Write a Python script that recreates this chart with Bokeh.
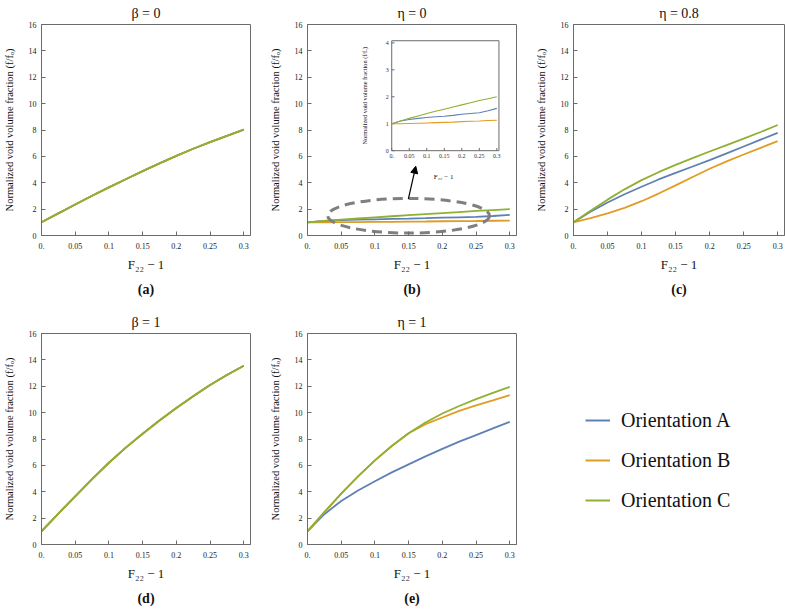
import math
from bokeh.plotting import figure
from bokeh.layouts import row, column
from bokeh.models import (Range1d, FixedTicker, Title, Legend, LegendItem, Arrow,
                          NormalHead, NumeralTickFormatter)
from bokeh.embed import file_html
from bokeh.resources import INLINE
from bokeh.core.properties import value

# ---------------- data ----------------
strain = [0.0, 0.025, 0.05, 0.075, 0.1, 0.125, 0.15, 0.175, 0.2, 0.225, 0.25, 0.275, 0.3]

beta0 = [1.0, 1.68, 2.35, 3.01, 3.65, 4.27, 4.88, 5.47, 6.04, 6.58, 7.08, 7.56, 8.03]
beta1 = [1.0, 2.35, 3.65, 4.95, 6.2, 7.35, 8.4, 9.4, 10.35, 11.25, 12.1, 12.85, 13.55]

eta0_A = [1.0, 1.1, 1.16, 1.2, 1.23, 1.26, 1.28, 1.31, 1.35, 1.38, 1.41, 1.48, 1.57]
eta0_B = [1.0, 1.0, 1.01, 1.02, 1.03, 1.04, 1.05, 1.06, 1.08, 1.09, 1.1, 1.12, 1.13]
eta0_C = [1.0, 1.1, 1.2, 1.29, 1.38, 1.46, 1.54, 1.62, 1.7, 1.78, 1.86, 1.93, 2.0]

eta08_A = [1.0, 1.8, 2.5, 3.13, 3.7, 4.25, 4.75, 5.23, 5.72, 6.23, 6.75, 7.27, 7.78]
eta08_B = [1.0, 1.32, 1.68, 2.1, 2.6, 3.18, 3.8, 4.44, 5.06, 5.62, 6.14, 6.65, 7.15]
eta08_C = [1.0, 1.88, 2.72, 3.5, 4.2, 4.8, 5.35, 5.87, 6.37, 6.86, 7.35, 7.85, 8.38]

eta1_A = [1.0, 2.3, 3.3, 4.1, 4.8, 5.47, 6.08, 6.68, 7.25, 7.8, 8.3, 8.8, 9.3]
eta1_B = [1.0, 2.45, 3.85, 5.17, 6.38, 7.47, 8.43, 9.13, 9.63, 10.13, 10.55, 10.93, 11.33]
eta1_C = [1.0, 2.45, 3.85, 5.17, 6.38, 7.47, 8.43, 9.25, 9.93, 10.5, 11.02, 11.5, 11.95]

x_ticks = [0.0, 0.05, 0.1, 0.15, 0.2, 0.25, 0.3]
y_ticks = [0, 2, 4, 6, 8, 10, 12, 14, 16]
inset_y_ticks = [0, 1, 2, 3, 4]
x_tick_labels = ["0.", "0.05", "0.1", "0.15", "0.2", "0.25", "0.3"]

series_names = ["Orientation A", "Orientation B", "Orientation C"]
colors = ["#5E81B5", "#E19C24", "#8FB032"]

FONT = "'Liberation Serif', 'Times New Roman', serif"
FRAME = "#6b6b6b"
Y_LABEL = "Normalized void volume fraction (f/f\u2092)"
X_LABEL = "F\u2082\u2082 \u2212 1"


def panel(title, tag, series, w, h, mbl, mbr, mbt, mbb):
    p = figure(width=w, height=h, x_range=Range1d(0, 0.31), y_range=Range1d(0, 16),
               toolbar_location=None, output_backend="svg",
               min_border_left=mbl, min_border_right=mbr,
               min_border_top=mbt, min_border_bottom=mbb)
    p.grid.visible = False
    p.outline_line_color = FRAME
    p.outline_line_width = 1
    p.title.text = title
    p.title.align = "center"
    p.title.text_font = FONT
    p.title.text_font_size = "14px"
    p.title.text_font_style = "normal"
    p.title.text_color = "#111111"
    p.title.standoff = 7
    for ax in (p.xaxis[0], p.yaxis[0]):
        ax.major_tick_in = 4
        ax.major_tick_out = 0
        ax.minor_tick_in = 0
        ax.minor_tick_out = 0
        ax.axis_line_color = FRAME
        ax.major_tick_line_color = FRAME
        ax.major_label_text_font = FONT
        ax.major_label_text_font_size = "8px"
        ax.major_label_text_color = "#222222"
        ax.axis_label_text_font = FONT
        ax.axis_label_text_font_style = "normal"
        ax.axis_label_text_color = "#111111"
    p.xaxis.ticker = FixedTicker(ticks=x_ticks)
    p.xaxis.formatter = NumeralTickFormatter(format="0.[00]")
    p.xaxis.major_label_overrides = {0: "0."}
    p.xaxis.major_label_standoff = 7
    p.xaxis.axis_label = X_LABEL
    p.xaxis.axis_label_text_font_size = "13px"
    p.xaxis.axis_label_standoff = 5
    p.yaxis.ticker = FixedTicker(ticks=y_ticks)
    p.yaxis.major_label_standoff = 5
    p.yaxis.axis_label = Y_LABEL
    p.yaxis.axis_label_text_font_size = "10.5px"
    p.yaxis.axis_label_standoff = 11
    for ys, c in zip(series, colors):
        p.line(strain, ys, line_color=c, line_width=1.8)
    p.add_layout(Title(text=tag, align="center", text_font=FONT, text_font_size="14px",
                       text_font_style="bold", text_color="#111111", standoff=11), "below")
    return p


H1, H2 = 309, 307

pa = panel("\u03b2 = 0", "(a)", [beta0, beta0, beta0], 266, H1, 37, 16, 24, 74)
pb = panel("\u03b7 = 0", "(b)", [eta0_A, eta0_B, eta0_C], 266, H1, 37, 16, 24, 74)
pc = panel("\u03b7 = 0.8", "(c)", [eta08_A, eta08_B, eta08_C], 253, H1, 39, 1, 24, 74)
pd = panel("\u03b2 = 1", "(d)", [beta1, beta1, beta1], 266, H2, 37, 16, 24, 72)
pe = panel("\u03b7 = 1", "(e)", [eta1_A, eta1_B, eta1_C], 266, H2, 37, 16, 24, 72)

# ---- zoom marker (dashed ellipse + arrow) in panel (b) ----
pb.ellipse(x=[0.15], y=[1.5], width=[0.24], height=[2.63], fill_color=None,
           line_color="#7f7f7f", line_width=3, line_dash="10 6")
pb.add_layout(Arrow(x_start=0.1496, y_start=2.78, x_end=0.1606, y_end=5.25,
                    line_color="black", line_width=1.2,
                    end=NormalHead(size=7, fill_color="black", line_color="black")))

# ---- inset in panel (b) via extra ranges ----
ins_x = (0.0, 0.306)
ins_y = (0.0, 4.08)
frac_x = (0.403, 0.916)
frac_y = (0.402, 0.923)


def extra(lo, hi, f0, f1):
    span = (hi - lo) / (f1 - f0)
    start = lo - f0 * span
    return Range1d(start, start + span)


pb.extra_x_ranges = {"ix": extra(ins_x[0], ins_x[1], frac_x[0], frac_x[1])}
pb.extra_y_ranges = {"iy": extra(ins_y[0], ins_y[1], frac_y[0], frac_y[1])}
kw = dict(x_range_name="ix", y_range_name="iy")
pb.quad(left=[ins_x[0]], right=[ins_x[1]], bottom=[ins_y[0]], top=[ins_y[1]],
        fill_color="white", line_color=FRAME, line_width=1, **kw)
pb.segment(x0=x_ticks, y0=[0] * len(x_ticks), x1=x_ticks, y1=[0.1] * len(x_ticks),
           line_color=FRAME, line_width=1, **kw)
pb.segment(x0=[0] * len(inset_y_ticks), y0=inset_y_ticks, x1=[0.008] * len(inset_y_ticks),
           y1=inset_y_ticks, line_color=FRAME, line_width=1, **kw)
pb.text(x=x_ticks, y=[0] * len(x_ticks), text=x_tick_labels, text_font=value(FONT),
        text_font_size="6px", text_align="center", text_baseline="top", y_offset=3,
        text_color="#333333", **kw)
pb.text(x=[0] * len(inset_y_ticks), y=inset_y_ticks, text=[str(v) for v in inset_y_ticks],
        text_font=value(FONT), text_font_size="6px", text_align="right",
        text_baseline="middle", x_offset=-3, text_color="#333333", **kw)
pb.text(x=[0.12], y=[0], text=[X_LABEL], text_font=value(FONT), text_font_size="7px",
        text_align="left", text_baseline="middle", y_offset=26, text_color="#111111", **kw)
pb.text(x=[0], y=[2.04], text=[Y_LABEL], text_font=value(FONT), text_font_size="6.3px",
        text_align="center", text_baseline="middle", x_offset=-27, angle=math.pi / 2,
        text_color="#111111", **kw)
for ys, c in zip([eta0_A, eta0_B, eta0_C], colors):
    pb.line(strain, ys, line_color=c, line_width=1.1, **kw)

# ---- legend panel ----
pl = figure(width=253, height=H2, x_range=Range1d(0, 1), y_range=Range1d(0, 1),
            x_axis_location=None, y_axis_location=None, toolbar_location=None,
            output_backend="svg", min_border=0)
pl.grid.visible = False
pl.outline_line_color = None
items = []
for name, c in zip(series_names, colors):
    r = pl.line(x=[float("nan")], y=[float("nan")], line_color=c, line_width=2)
    items.append(LegendItem(label=name, renderers=[r]))
leg = Legend(items=items, location=(53, 32), label_text_font=FONT, label_text_font_size="20px",
             label_text_color="#111111", glyph_width=25, glyph_height=24, label_height=24,
             label_standoff=11, spacing=16, padding=0, margin=0,
             border_line_color=None, background_fill_alpha=0)
pl.add_layout(leg)

layout = column(row(pa, pb, pc), row(pd, pe, pl))

with open("out.html", "w") as f:
    f.write(file_html(layout, INLINE))
